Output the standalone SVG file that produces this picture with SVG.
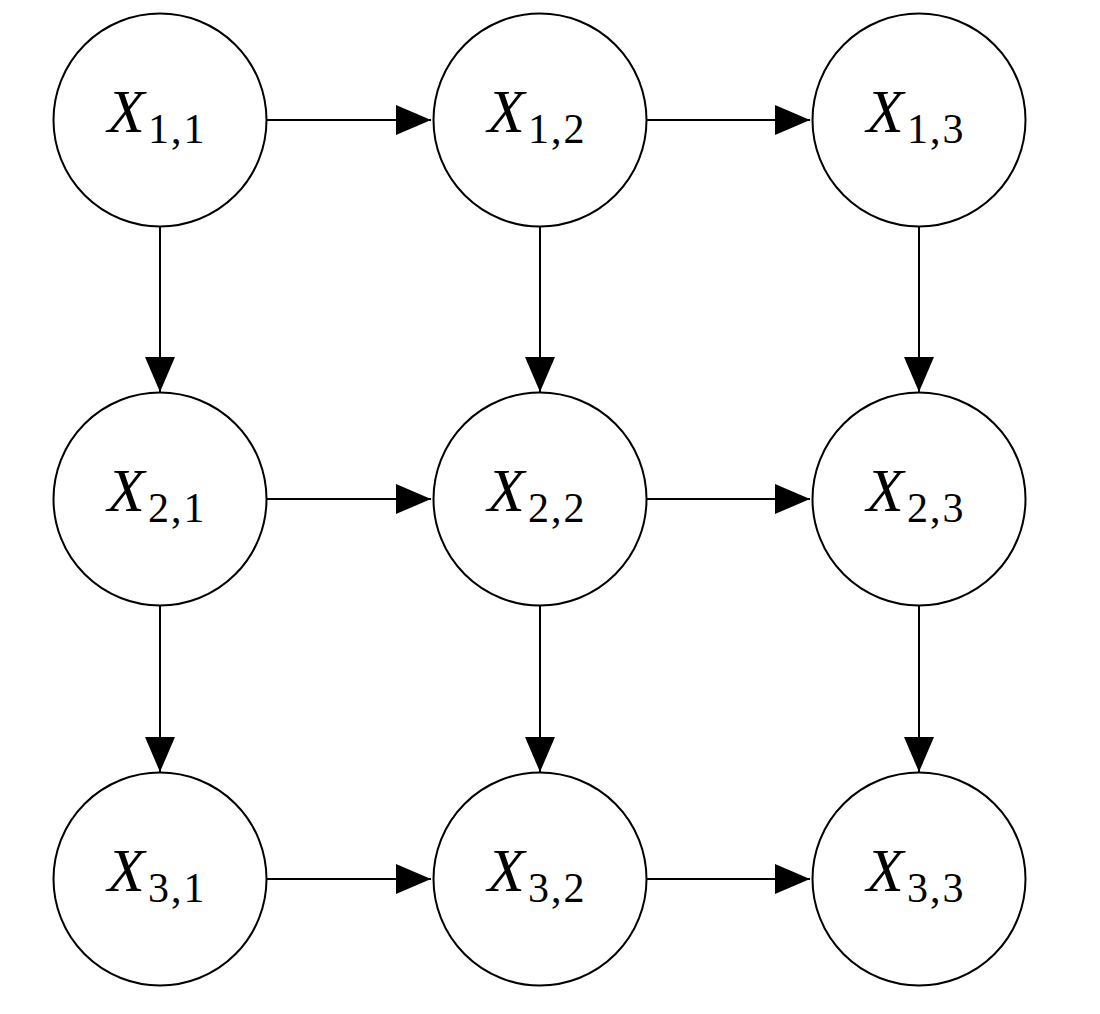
<svg xmlns="http://www.w3.org/2000/svg" width="1100" height="1014" viewBox="0 0 1100 1014">
<style>
.n{fill:#fff;stroke:#000;stroke-width:2}
.e{stroke:#000;stroke-width:2;fill:none;marker-end:url(#ah)}
.t{font-family:"Liberation Serif","Times New Roman",serif;fill:#000;text-anchor:middle}
.x{font-style:italic;font-size:61px;letter-spacing:3px}
.s{font-size:42px;letter-spacing:2px}
</style>
<defs>
<marker id="ah" markerUnits="userSpaceOnUse" markerWidth="36" markerHeight="30" refX="35" refY="15" orient="auto">
<path d="M0,0 L35,15 L0,30 Z" fill="#000"/>
</marker>
</defs>
<rect width="1100" height="1014" fill="#fff"/>
<g id="connectors">
<line class="e" x1="267" y1="120" x2="431" y2="120"/>
<line class="e" x1="647" y1="120" x2="810" y2="120"/>
<line class="e" x1="267" y1="499" x2="431" y2="499"/>
<line class="e" x1="647" y1="499" x2="810" y2="499"/>
<line class="e" x1="267" y1="879" x2="431" y2="879"/>
<line class="e" x1="647" y1="879" x2="810" y2="879"/>
<line class="e" x1="160" y1="227" x2="160" y2="392"/>
<line class="e" x1="540" y1="227" x2="540" y2="392"/>
<line class="e" x1="919" y1="227" x2="919" y2="392"/>
<line class="e" x1="160" y1="606" x2="160" y2="772"/>
<line class="e" x1="540" y1="606" x2="540" y2="772"/>
<line class="e" x1="919" y1="606" x2="919" y2="772"/>
</g>
<g id="n11"><circle class="n" cx="160" cy="120" r="106.5"/><text class="t" x="157" y="132"><tspan class="x">X</tspan><tspan class="s" dy="11">1,1</tspan></text></g>
<g id="n12"><circle class="n" cx="540" cy="120" r="106.5"/><text class="t" x="537" y="132"><tspan class="x">X</tspan><tspan class="s" dy="11">1,2</tspan></text></g>
<g id="n13"><circle class="n" cx="919" cy="120" r="106.5"/><text class="t" x="916" y="132"><tspan class="x">X</tspan><tspan class="s" dy="11">1,3</tspan></text></g>
<g id="n21"><circle class="n" cx="160" cy="499" r="106.5"/><text class="t" x="157" y="511"><tspan class="x">X</tspan><tspan class="s" dy="11">2,1</tspan></text></g>
<g id="n22"><circle class="n" cx="540" cy="499" r="106.5"/><text class="t" x="537" y="511"><tspan class="x">X</tspan><tspan class="s" dy="11">2,2</tspan></text></g>
<g id="n23"><circle class="n" cx="919" cy="499" r="106.5"/><text class="t" x="916" y="511"><tspan class="x">X</tspan><tspan class="s" dy="11">2,3</tspan></text></g>
<g id="n31"><circle class="n" cx="160" cy="879" r="106.5"/><text class="t" x="157" y="891"><tspan class="x">X</tspan><tspan class="s" dy="11">3,1</tspan></text></g>
<g id="n32"><circle class="n" cx="540" cy="879" r="106.5"/><text class="t" x="537" y="891"><tspan class="x">X</tspan><tspan class="s" dy="11">3,2</tspan></text></g>
<g id="n33"><circle class="n" cx="919" cy="879" r="106.5"/><text class="t" x="916" y="891"><tspan class="x">X</tspan><tspan class="s" dy="11">3,3</tspan></text></g>
</svg>
